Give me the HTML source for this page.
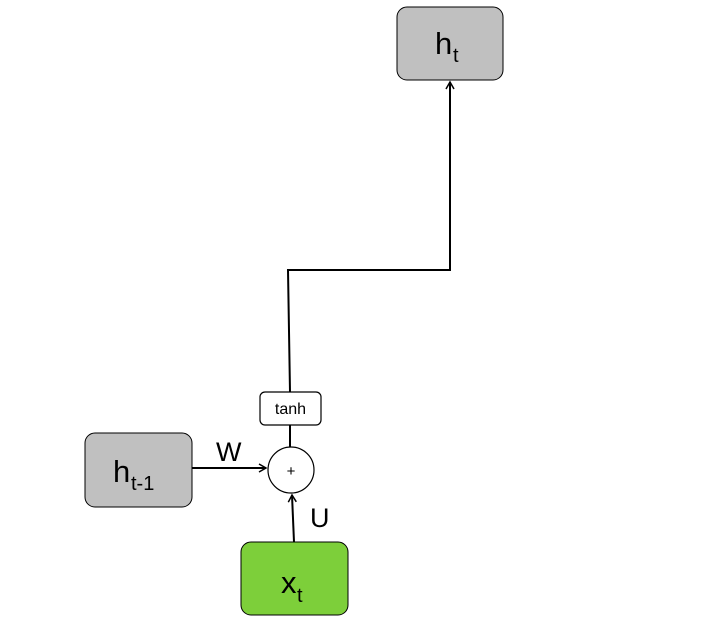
<!DOCTYPE html>
<html><head><meta charset="utf-8"><style>
html,body{margin:0;padding:0;background:#fff;}
svg{display:block;font-family:"Liberation Sans",Calibri,sans-serif;}
</style></head><body>
<svg width="706" height="629" viewBox="0 0 706 629">
<defs><marker id="ah" markerWidth="10" markerHeight="10" refX="8" refY="5" orient="auto" markerUnits="userSpaceOnUse"><path d="M1,1 L8,5 L1,9" fill="none" stroke="#000" stroke-width="1.5"/></marker></defs>
<g>
<rect x="397" y="7" width="106" height="73" rx="10" fill="#c0c0c0" stroke="#000" stroke-width="1"/>
<text x="435" y="54" font-size="31">h</text><text x="453" y="62" font-size="20">t</text>
</g>
<path d="M290,392 L288,270 L450,270 L450,82" fill="none" stroke="#000" stroke-width="2" marker-end="url(#ah)"/>
<g>
<rect x="260" y="392" width="61" height="33" rx="5" fill="#fff" stroke="#000" stroke-width="1.2"/>
<text x="290.5" y="414" font-size="16" text-anchor="middle">tanh</text>
</g>
<line x1="290" y1="425" x2="290" y2="447" stroke="#000" stroke-width="2"/>
<g>
<circle cx="291" cy="470" r="23" fill="#fff" stroke="#000" stroke-width="1.2"/>
<text x="291" y="476" font-size="15" text-anchor="middle">+</text>
</g>
<g>
<rect x="85" y="433" width="107" height="74" rx="10" fill="#c0c0c0" stroke="#000" stroke-width="1"/>
<text x="113" y="482" font-size="31">h</text><text x="131" y="490" font-size="20">t-1</text>
</g>
<line x1="192" y1="468" x2="266" y2="468" stroke="#000" stroke-width="2" marker-end="url(#ah)"/>
<text x="216" y="461" font-size="27">W</text>
<g>
<rect x="241" y="542" width="107" height="73" rx="10" fill="#7dcf3a" stroke="#000" stroke-width="1"/>
<text x="281" y="593" font-size="31">x</text><text x="297" y="602" font-size="20">t</text>
</g>
<line x1="294" y1="542" x2="292" y2="495" stroke="#000" stroke-width="2" marker-end="url(#ah)"/>
<text x="310" y="527" font-size="27">U</text>
</svg>
</body></html>
